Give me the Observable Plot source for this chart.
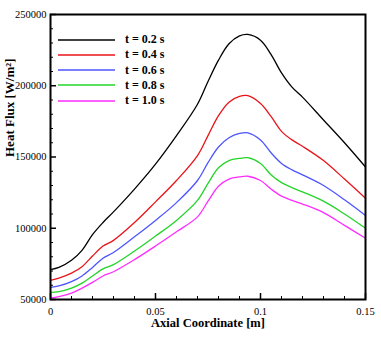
<!DOCTYPE html>
<html><head><meta charset="utf-8">
<script src="https://cdn.jsdelivr.net/npm/d3@7"></script>
<script src="https://cdn.jsdelivr.net/npm/@observablehq/plot@0.6"></script>
<style>
body{margin:0;background:#fff;}
#wrap{position:relative;width:381px;height:339px;font-family:"Liberation Serif","Times New Roman",serif;}
#legend{position:absolute;left:58px;top:32px;}
.row{display:flex;align-items:center;height:15.25px;}
.row svg{width:57px;height:4px;display:block;}
.row span{margin-left:10px;font-weight:bold;font-size:12px;color:#000;}
</style></head><body><div id="wrap"></div>
<script>
// Axial coordinate [m]
const axial = [0, 0.004, 0.01, 0.015, 0.02, 0.025, 0.03, 0.04, 0.05, 0.06, 0.07, 0.075, 0.08, 0.085, 0.09, 0.094, 0.1, 0.105, 0.11, 0.115, 0.12, 0.13, 0.14, 0.15];
// Heat flux [W/m²] per time
const flux_t02 = [71000, 72500, 77500, 84500, 95500, 104000, 111500, 127500, 145000, 165000, 187000, 203000, 218000, 229500, 235000, 236000, 232000, 222000, 209000, 199000, 192000, 176000, 160000, 143000];
const flux_t04 = [63500, 65000, 68500, 73000, 80500, 87500, 91500, 104000, 118500, 133500, 151000, 165000, 179000, 188500, 192500, 193000, 187500, 178500, 168000, 162000, 157500, 147500, 134500, 121000];
const flux_t06 = [58500, 59500, 62500, 66500, 72500, 79000, 83000, 94000, 105500, 118000, 133500, 146000, 157000, 163500, 166500, 167000, 162000, 153000, 145500, 141000, 137500, 130000, 120000, 109000];
const flux_t08 = [55000, 55500, 58000, 61500, 66500, 71500, 74500, 84000, 94500, 105500, 119500, 131500, 142500, 147500, 149000, 149500, 145500, 137500, 132000, 128500, 125500, 119000, 110000, 100000];
const flux_t10 = [51000, 52000, 54500, 58000, 62000, 66500, 69500, 78000, 87500, 97500, 108000, 119000, 129500, 134500, 136000, 136500, 133500, 127500, 122500, 119500, 117000, 111000, 102000, 93000];

const seriesLabels = ["t = 0.2 s", "t = 0.4 s", "t = 0.6 s", "t = 0.8 s", "t = 1.0 s"];
const seriesColors = ["#000000", "#e8141a", "#4d55ff", "#25d42a", "#ff2cff"];
const xMajor = [0, 0.05, 0.1, 0.15];
const xMinor = [0.01, 0.02, 0.03, 0.04, 0.06, 0.07, 0.08, 0.09, 0.11, 0.12, 0.13, 0.14];
const yMajor = [50000, 100000, 150000, 200000, 250000];
const yMinor = [60000, 70000, 80000, 90000, 110000, 120000, 130000, 140000, 160000, 170000, 180000, 190000, 210000, 220000, 230000, 240000];
const xLabel = "Axial Coordinate [m]";
const yLabel = "Heat Flux [W/m²]";

const allSeries = [flux_t02, flux_t04, flux_t06, flux_t08, flux_t10];
const data = [];
allSeries.forEach((arr, i) => arr.forEach((v, j) => data.push({x: axial[j], y: v, series: seriesLabels[i]})));

const W = 381, H = 339, mL = 50, mR = 16, mT = 14, mB = 40;
const fw = W - mL - mR, fh = H - mT - mB;

const chart = Plot.plot({
  width: W, height: H, marginLeft: mL, marginRight: mR, marginTop: mT, marginBottom: mB,
  style: {fontFamily: "'Liberation Serif','Times New Roman',serif", fontSize: "10.5px", color: "#000", background: "#fff"},
  x: {domain: [0, 0.15]},
  y: {domain: [50000, 250000]},
  color: {domain: seriesLabels, range: seriesColors},
  marks: [
    Plot.line(data, {x: "x", y: "y", z: "series", stroke: "series", curve: "catmull-rom", strokeWidth: 1.3}),
    Plot.tickX(xMinor, {x: d => d, insetTop: fh - 3, stroke: "#000", strokeWidth: 1}),
    Plot.tickX(xMajor, {x: d => d, insetTop: fh - 6, stroke: "#000", strokeWidth: 1.5}),
    Plot.tickY(yMinor, {y: d => d, insetRight: fw - 3, stroke: "#000", strokeWidth: 1}),
    Plot.tickY(yMajor, {y: d => d, insetRight: fw - 6, stroke: "#000", strokeWidth: 1.5}),
    Plot.axisX(xMajor, {tickSize: 0, tickPadding: 8, tickFormat: d => String(d), label: null}),
    Plot.axisY(yMajor, {tickSize: 0, tickPadding: 4, tickFormat: d => String(d), label: null}),
    Plot.frame({stroke: "#000", strokeWidth: 2}),
    Plot.text([xLabel], {text: d => d, frameAnchor: "bottom", dy: 27, fontWeight: "bold", fontSize: 12.5, fill: "#000"}),
    Plot.text([yLabel], {text: d => d, frameAnchor: "left", dx: -41, rotate: -90, fontWeight: "bold", fontSize: 13, fill: "#000"})
  ]
});

const wrap = document.getElementById("wrap");
wrap.appendChild(chart);
const legend = document.createElement("div");
legend.id = "legend";
seriesLabels.forEach((lab, i) => {
  const row = document.createElement("div");
  row.className = "row";
  row.innerHTML = `<svg viewBox="0 0 57 4"><line x1="0" y1="2" x2="57" y2="2" stroke="${seriesColors[i]}" stroke-width="1.5"/></svg><span>${lab}</span>`;
  legend.appendChild(row);
});
wrap.appendChild(legend);
</script>
</body></html>
